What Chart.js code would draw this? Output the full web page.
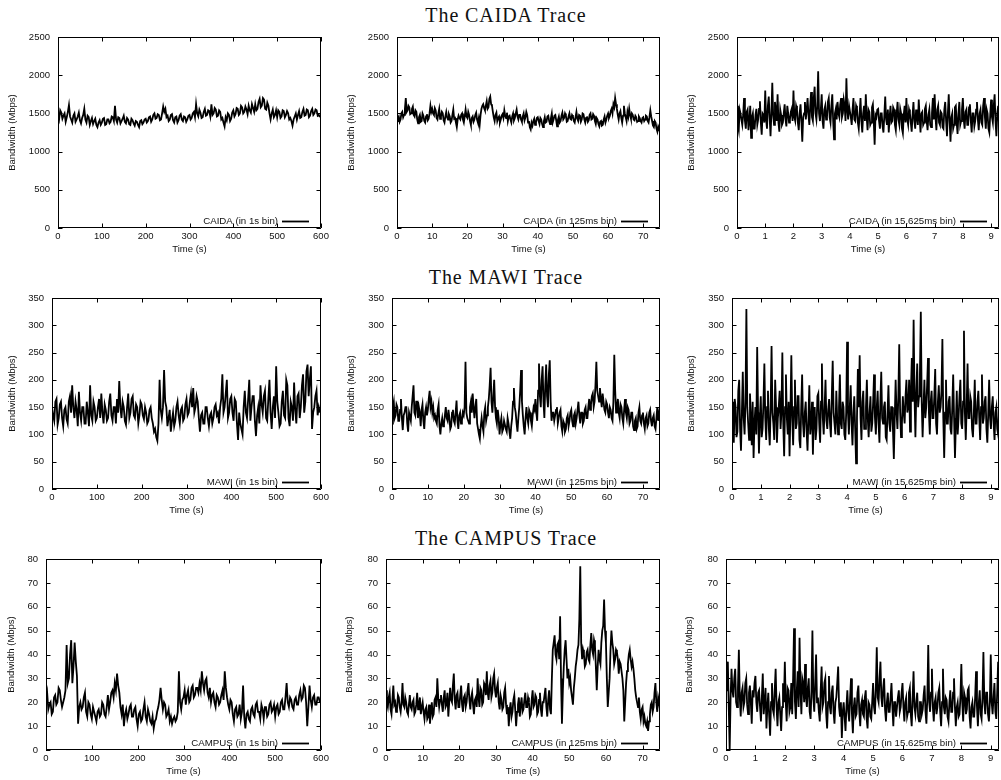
<!DOCTYPE html>
<html>
<head>
<meta charset="utf-8">
<script src="https://cdn.jsdelivr.net/npm/chart.js@4.4.1/dist/chart.umd.min.js"></script>
<style>
html,body{margin:0;padding:0;background:#fff;width:1001px;height:780px;overflow:hidden;}
#wrap{position:relative;width:1001px;height:780px;background:#fff;}
#wrap canvas{position:absolute;}
.title{position:absolute;font-family:"Liberation Serif","Times New Roman",serif;font-size:20px;line-height:20px;letter-spacing:0.9px;color:#111;white-space:nowrap;transform:translateX(-50%);}
</style>
</head>
<body>
<div id="wrap">
  <div class="title" style="left:506px;top:5px">The CAIDA Trace</div>
  <div class="title" style="left:506px;top:267px">The MAWI Trace</div>
  <div class="title" style="left:506px;top:528px">The CAMPUS Trace</div>
</div>
<script>
// ---------- data (Mbps) ----------
const traceNames = ['CAIDA', 'MAWI', 'CAMPUS'];
const binLabels = ['1s', '125ms', '15.625ms'];
const sampleStep = [2.5, 0.25, 0.03125];   // seconds between plotted samples per column
const xMaxByCol = [600, 74.75, 9.28];
const xStepByCol = [100, 10, 1];
const yMaxByRow = [2500, 350, 80];
const yStepByRow = [500, 50, 10];

const caida1s = [
 1480,1420,1540,1510,1430,1470,1500,1390,1450,1520,1610,1460,1420,1380,1470,1500,1390,1420,1460,1510,
 1410,1370,1440,1480,1560,1420,1380,1470,1450,1350,1400,1440,1360,1400,1430,1350,1320,1380,1410,1350,
 1380,1430,1440,1350,1360,1420,1420,1370,1390,1460,1450,1400,1600,1420,1380,1450,1440,1370,1400,1430,
 1470,1390,1370,1440,1420,1360,1350,1430,1410,1370,1340,1400,1390,1350,1320,1400,1410,1360,1380,1420,
 1430,1380,1400,1450,1460,1390,1420,1480,1500,1430,1440,1490,1480,1410,1420,1500,1590,1520,1560,1450,
 1470,1400,1420,1480,1490,1410,1380,1450,1460,1380,1410,1470,1490,1420,1400,1460,1450,1390,1420,1470,
 1480,1420,1440,1500,1520,1450,1620,1500,1460,1550,1510,1440,1450,1520,1560,1470,1480,1540,1530,1460,
 1620,1480,1500,1570,1550,1460,1470,1540,1520,1420,1440,1380,1330,1450,1410,1500,1480,1400,1430,1510,
 1540,1460,1490,1570,1560,1480,1500,1600,1580,1500,1520,1590,1550,1490,1600,1540,1510,1620,1570,1520,
 1620,1540,1560,1650,1690,1580,1600,1700,1680,1560,1550,1640,1600,1500,1420,1500,1550,1450,1480,1540,
 1450,1540,1520,1440,1460,1540,1530,1450,1480,1530,1500,1420,1440,1400,1340,1420,1460,1500,1420,1480,
 1530,1440,1450,1520,1560,1470,1480,1550,1540,1450,1470,1530,1560,1480,1500,1550,1540,1470,1480,1450];

const caida125ms = [
 1400,1440,1460,1390,1420,1500,1520,1450,1480,1560,1700,1520,1540,1600,1580,1490,1500,1560,1590,1480,
 1460,1540,1520,1420,1370,1450,1480,1390,1400,1500,1470,1400,1380,1460,1490,1410,1430,1500,1600,1520,
 1560,1500,1480,1570,1540,1440,1420,1500,1560,1430,1460,1520,1500,1410,1380,1460,1520,1450,1420,1490,
 1460,1380,1400,1480,1550,1430,1440,1380,1320,1420,1470,1440,1420,1480,1500,1420,1380,1460,1550,1460,
 1440,1520,1480,1400,1350,1440,1460,1390,1420,1480,1510,1420,1380,1440,1350,1480,1560,1600,1620,1570,
 1540,1600,1660,1560,1580,1690,1720,1620,1600,1520,1450,1400,1480,1510,1400,1440,1460,1380,1420,1470,
 1490,1440,1540,1470,1440,1510,1400,1460,1470,1420,1380,1460,1500,1410,1440,1500,1550,1460,1420,1480,
 1480,1420,1390,1460,1500,1410,1450,1520,1480,1380,1400,1320,1290,1380,1340,1400,1430,1350,1380,1440,
 1450,1400,1360,1440,1420,1360,1320,1400,1450,1380,1390,1460,1470,1400,1360,1440,1500,1380,1420,1470,
 1480,1410,1330,1420,1460,1380,1400,1470,1510,1420,1440,1500,1470,1390,1400,1460,1500,1430,1420,1480,
 1460,1400,1380,1450,1520,1430,1400,1480,1470,1390,1420,1500,1490,1420,1380,1440,1460,1390,1410,1480,
 1500,1420,1430,1490,1470,1400,1360,1440,1420,1360,1330,1390,1400,1340,1350,1420,1460,1380,1420,1470,
 1500,1440,1470,1530,1560,1500,1620,1580,1700,1620,1560,1480,1420,1500,1530,1440,1380,1470,1600,1500,
 1450,1400,1520,1460,1560,1480,1430,1500,1480,1420,1410,1470,1450,1390,1400,1460,1440,1400,1380,1440,
 1450,1400,1420,1470,1460,1400,1380,1450,1540,1460,1400,1340,1320,1400,1380,1300,1260,1330,1300,1250];

const caida15ms = [
 1600,1350,1280,1550,1500,1420,1350,1480,1700,1400,1300,1520,1550,1280,1400,1600,1180,1450,1500,1300,1300,1480,1560,1350,1420,1560,1660,1380,1220,1500,1480,1380,
 1800,1420,1300,1600,1720,1450,1200,1500,1900,1480,1350,1650,1550,1400,1750,1380,1260,1550,1480,1350,1380,1500,1620,1420,1330,1600,1500,1380,1420,1520,1560,1400,
 1800,1450,1400,1600,1550,1380,1280,1500,1620,1400,1130,1450,1500,1650,1420,1550,1700,1480,1350,1600,1780,1450,1400,1700,1850,1500,1420,1600,2050,1500,1400,1550,
 1750,1400,1300,1550,1600,1420,1450,1650,1700,1450,1380,1600,1750,1400,1160,1500,1560,1420,1650,1500,1450,1620,1700,1450,1500,1680,1600,1400,1960,1550,1420,1600,
 1600,1450,1350,1550,1700,1420,1400,1600,1560,1380,1300,1500,1700,1400,1250,1500,1600,1400,1750,1450,1280,1550,1520,1350,1380,1580,1620,1400,1090,1480,1450,1550,
 1560,1400,1300,1500,1500,1330,1250,1480,1720,1420,1350,1550,1250,1450,1600,1380,1400,1580,1550,1350,1280,1500,1650,1420,1350,1560,1500,1300,1240,1480,1600,1380,
 1700,1420,1350,1550,1500,1380,1260,1480,1650,1400,1300,1550,1450,1350,1680,1450,1250,1500,1520,1350,1380,1560,1600,1400,1280,1480,1550,1350,1320,1500,1700,1420,
 1750,1450,1280,1550,1600,1380,1350,1520,1500,1320,1300,1550,1650,1400,1200,1500,1750,1400,1130,1450,1500,1300,1350,1580,1600,1380,1230,1500,1650,1350,1400,1550,
 1700,1420,1300,1520,1550,1350,1350,1580,1620,1400,1250,1500,1500,1330,1400,1550,1650,1420,1280,1500,1550,1380,1350,1600,1700,1450,1300,1550,1500,1300,1250,1480,
 1680,1450,1380,1600,1750,1400,1200,1500,1600,1350];

const mawi1s = [
 150,135,125,160,165,118,130,155,160,130,115,145,150,128,120,160,170,140,190,150,
 130,160,145,115,178,140,125,150,150,120,120,160,140,115,190,135,125,160,150,125,
 130,150,165,130,175,140,120,155,145,125,130,160,175,135,125,150,150,120,165,140,
 198,150,130,160,150,125,118,150,175,130,140,165,170,135,130,155,150,120,135,160,
 155,135,128,150,140,120,125,145,150,130,120,105,110,95,88,120,200,145,130,150,
 218,160,150,115,130,145,105,125,140,115,125,150,160,135,120,145,150,125,130,155,
 165,135,140,160,175,150,185,140,150,170,160,130,105,135,140,120,120,150,150,130,
 115,135,140,120,130,150,155,135,140,120,150,165,210,140,150,175,200,130,140,165,
 170,140,125,165,160,120,90,140,120,110,100,150,180,140,130,165,200,125,150,170,
 170,125,97,135,150,120,190,155,140,170,180,130,125,165,200,140,110,150,170,130,
 225,160,140,115,120,160,180,135,130,200,190,130,115,160,150,125,195,145,120,170,
 175,130,150,190,210,140,160,215,228,170,200,225,110,140,150,170,180,135,150,140];

const mawi125ms = [
 120,150,160,130,135,155,150,125,125,145,165,130,108,135,140,150,150,120,105,140,
 140,125,150,170,190,140,135,160,160,130,150,140,115,145,155,125,110,140,150,135,
 145,165,180,150,160,140,150,130,135,125,120,145,155,115,100,120,130,115,120,135,
 150,130,125,145,130,110,115,140,145,125,120,140,162,125,110,135,140,120,125,140,
 135,150,233,140,130,125,120,150,160,140,175,150,130,150,165,120,110,100,92,115,
 130,115,105,140,150,125,135,150,165,190,222,160,140,170,200,150,130,120,145,130,
 100,120,130,105,110,125,125,110,105,130,120,105,92,115,130,160,185,150,140,120,
 105,130,150,180,218,160,135,115,100,130,150,130,120,145,140,125,115,135,150,145,
 165,140,125,180,230,170,150,200,225,160,130,190,228,170,150,210,236,160,125,140,
 140,125,135,145,150,120,130,140,145,115,105,125,120,105,110,130,135,115,125,140,
 145,125,115,135,140,120,130,145,160,135,120,140,140,120,125,145,150,130,130,150,
 165,145,155,170,175,150,160,190,233,180,170,160,185,165,150,175,160,145,140,160,
 155,140,130,150,145,130,125,160,246,180,140,150,165,140,130,155,150,130,120,145,
 165,140,130,150,145,120,125,140,140,115,108,125,130,110,115,140,150,125,120,135,
 140,120,110,130,135,115,120,140,145,125,115,130,135,115,110,130,150,125,140,150];

const mawi15ms = [
 160,120,85,165,150,95,105,180,200,110,70,140,215,130,100,160,330,150,120,90,175,130,80,160,57,120,150,100,260,140,65,130,
 170,95,110,160,230,130,90,150,180,110,80,150,262,140,120,90,200,150,85,130,150,180,110,140,250,120,60,150,210,130,100,160,
 60,140,245,130,80,150,200,110,120,170,170,90,75,150,210,120,95,140,160,105,70,130,190,100,120,160,63,140,150,90,110,170,
 175,120,85,160,230,130,100,150,200,125,110,145,165,120,95,170,235,140,120,100,180,130,100,150,210,120,110,160,150,100,90,140,
 270,140,100,150,190,120,80,140,170,110,47,130,220,150,245,130,90,160,180,110,110,150,200,130,95,140,170,105,120,160,210,130,
 100,150,180,120,85,160,215,130,120,150,160,95,90,140,190,120,105,150,150,110,55,130,200,140,110,170,265,140,95,120,170,140,
 120,170,200,140,150,200,105,180,240,160,310,170,95,180,230,150,170,210,325,160,95,150,200,130,150,190,240,140,100,160,180,130,
 130,170,220,120,100,160,190,140,150,180,275,130,57,140,200,120,120,160,170,110,100,150,210,130,57,120,180,100,130,170,200,120,
 110,160,290,140,90,150,230,130,130,170,160,110,95,140,200,120,120,160,180,130,90,150,210,120,130,160,170,110,85,140,200,130,
 110,150,170,120,90,140,150,110,100,140];

const campus1s = [
 21,24,17,19,20,15,16,22,23,19,20,26,25,21,18,20,22,25,44,28,
 30,40,46,28,35,45,37,31,11,18,20,17,18,22,24,16,14,20,19,15,
 13,18,16,14,12,16,17,14,15,20,19,15,14,18,23,17,20,24,25,22,
 28,25,32,27,24,18,15,19,10,15,17,13,15,18,19,14,14,17,18,13,
 10,15,16,12,13,17,20,14,12,17,15,12,11,14,9,12,13,16,18,21,
 26,21,17,20,19,14,15,17,12,14,11,13,14,12,13,16,33,20,17,21,
 22,25,19,23,25,20,21,26,27,22,23,26,26,24,28,25,33,28,25,29,
 30,24,22,26,20,23,24,20,18,23,22,19,20,23,25,21,33,26,22,19,
 17,21,20,15,12,17,18,14,15,19,13,16,27,14,9,15,16,13,12,17,
 18,15,14,19,20,16,16,13,19,17,13,18,18,14,15,19,20,16,17,19,
 14,18,19,15,16,20,21,17,17,22,28,20,18,22,21,18,17,21,22,19,
 19,23,25,21,22,27,26,20,10,18,27,21,18,22,23,19,19,22,22,20];

const campus125ms = [
 25,20,18,22,24,17,15,21,27,19,20,16,17,23,22,18,16,20,28,19,
 18,22,20,16,15,19,23,18,17,20,21,15,16,19,24,17,19,22,15,18,
 20,16,13,17,18,13,14,19,11,16,20,14,15,21,22,18,30,22,18,21,
 23,19,16,22,25,18,19,24,14,20,26,21,20,27,32,21,17,23,24,18,
 18,23,27,19,16,22,23,18,20,25,28,21,17,22,24,19,15,21,22,18,
 30,22,18,26,25,19,20,28,27,23,33,24,21,27,29,22,24,30,32,25,
 22,26,28,20,17,23,21,17,18,24,26,19,15,18,10,17,20,14,16,21,
 23,17,10,16,19,22,14,19,22,16,17,21,24,18,18,22,20,14,15,21,
 25,18,19,23,22,15,16,21,24,17,14,20,20,23,26,18,14,21,25,17,
 15,30,42,45,48,40,38,44,45,38,56,30,11,25,35,42,46,38,30,34,
 28,30,25,22,19,26,30,35,38,42,44,55,77,45,38,42,40,35,36,41,
 42,38,37,44,49,42,40,46,44,35,25,35,42,38,36,45,50,52,63,50,
 45,30,18,24,30,42,50,45,42,36,38,42,41,38,32,37,36,33,30,25,
 12,20,28,33,36,40,42,38,35,37,34,30,25,22,20,18,22,16,13,17,
 18,12,14,11,10,12,8,12,15,19,20,16,18,24,28,20,16,22,20,17];

const campus15ms = [
 25,30,37,18,0,22,34,25,22,30,34,20,18,26,42,22,14,24,26,18,20,28,30,19,15,24,27,20,11,25,22,28,
 31,20,16,24,25,18,12,22,32,15,20,26,9,18,24,14,6,20,28,17,15,25,34,18,10,20,22,15,8,18,28,20,
 37,20,12,26,25,16,18,28,15,30,51,20,13,25,33,18,47,25,15,30,28,20,36,22,18,26,30,16,13,25,50,22,
 16,28,40,20,22,16,12,25,35,18,20,28,30,15,9,20,31,18,15,24,27,16,11,20,22,28,35,18,14,20,5,16,
 20,14,8,18,25,16,12,22,30,15,7,18,22,14,15,24,27,16,10,19,21,15,14,22,25,13,9,20,19,14,13,20,
 28,18,15,26,43,22,20,30,37,22,18,26,30,17,12,20,24,16,16,22,28,18,10,20,20,14,14,22,25,16,18,24,
 28,18,12,20,22,14,16,24,26,15,10,22,33,18,15,20,24,14,12,20,20,15,17,23,27,16,11,22,44,20,16,24,
 34,18,12,20,22,15,18,24,26,16,10,20,34,18,15,22,21,14,12,20,25,16,16,24,30,18,10,18,20,14,15,22,
 36,20,12,24,22,15,17,25,26,14,9,18,20,14,14,22,33,18,10,20,25,15,13,22,41,20,15,24,24,15,12,20,
 40,20,15,22,28,16,13,24,37,20];

const seriesGrid = [
  [caida1s, caida125ms, caida15ms],
  [mawi1s, mawi125ms, mawi15ms],
  [campus1s, campus125ms, campus15ms]
];

// ---------- layout (pixels) ----------
const plotTop = [37, 298, 559];
const plotBottom = [228, 489, 750];
const plotRight = [321, 660, 999];
const plotLeft = [[58, 397, 737], [52, 392, 732], [46, 386, 726]];
const yTitleX = [[13, 352, 692], [13, 352, 692], [12, 350, 690]];

const FONT_FAMILY = '"Liberation Sans", Arial, Helvetica, sans-serif';
const TXT = '#111';
const tickFont = {family: FONT_FAMILY, size: 9.5, lineHeight: 1.2};

const framePlugin = {
  id: 'gnuFrame',
  afterDatasetsDraw(chart) {
    const {ctx, chartArea: a, scales: {x, y}} = chart;
    const L = 4.5;
    ctx.save();
    ctx.strokeStyle = '#000';
    ctx.lineWidth = 1;
    ctx.beginPath();
    x.ticks.forEach(t => {
      const px = Math.round(x.getPixelForValue(t.value)) + 0.5;
      ctx.moveTo(px, a.bottom); ctx.lineTo(px, a.bottom - L);
      ctx.moveTo(px, a.top); ctx.lineTo(px, a.top + L);
    });
    y.ticks.forEach(t => {
      const py = Math.round(y.getPixelForValue(t.value)) + 0.5;
      ctx.moveTo(a.left, py); ctx.lineTo(a.left + L, py);
      ctx.moveTo(a.right, py); ctx.lineTo(a.right - L, py);
    });
    ctx.stroke();
    ctx.beginPath();
    ctx.rect(Math.round(a.left) + 0.5, Math.round(a.top) + 0.5,
             Math.round(a.right - a.left) - 1, Math.round(a.bottom - a.top) - 1);
    ctx.stroke();
    ctx.restore();
  }
};

const keyPlugin = {
  id: 'gnuKey',
  afterDatasetsDraw(chart) {
    const {ctx, chartArea: a} = chart;
    const ds = chart.data.datasets[0];
    const yy = Math.round(a.bottom - 7) + 0.5;
    const x2 = a.right - 12, x1 = x2 - 27;
    ctx.save();
    ctx.font = '9.7px ' + FONT_FAMILY;
    ctx.fillStyle = TXT;
    ctx.textAlign = 'right';
    ctx.textBaseline = 'middle';
    ctx.fillText(ds.label, x1 - 4, yy);
    ctx.strokeStyle = ds.borderColor;
    ctx.lineWidth = ds.borderWidth;
    ctx.beginPath();
    ctx.moveTo(x1, yy); ctx.lineTo(x2, yy);
    ctx.stroke();
    ctx.restore();
  }
};

const wrap = document.getElementById('wrap');

function makePanel(row, col) {
  const values = seriesGrid[row][col];
  const step = sampleStep[col];
  const top = plotTop[row], bottom = plotBottom[row];
  const left = plotLeft[row][col], right = plotRight[col];
  const lh = tickFont.size * 1.2;
  const cLeft = Math.round(yTitleX[row][col] - lh / 2);
  const padTop = 10, xH = 27;
  const padRight = Math.min(12, 1001 - right);
  const cTop = top - padTop;
  const cw = right + padRight - cLeft;
  const ch = bottom + xH - cTop;
  const yW = left - cLeft;

  const canvas = document.createElement('canvas');
  canvas.width = cw; canvas.height = ch;
  canvas.style.left = cLeft + 'px'; canvas.style.top = cTop + 'px';
  canvas.style.width = cw + 'px'; canvas.style.height = ch + 'px';
  wrap.appendChild(canvas);

  new Chart(canvas, {
    type: 'line',
    data: {
      datasets: [{
        label: traceNames[row] + ' (in ' + binLabels[col] + ' bin)',
        data: values.map((v, i) => ({x: i * step, y: v})),
        borderColor: '#000',
        borderWidth: 1.8,
        pointRadius: 0,
        fill: false,
        tension: 0,
        borderJoinStyle: 'miter'
      }]
    },
    options: {
      responsive: false,
      maintainAspectRatio: false,
      animation: false,
      devicePixelRatio: 1,
      events: [],
      layout: {padding: {left: 0, top: padTop, right: padRight, bottom: 0}},
      plugins: {legend: {display: false}, tooltip: {enabled: false}},
      scales: {
        x: {
          type: 'linear', min: 0, max: xMaxByCol[col],
          grid: {display: false, drawTicks: false},
          border: {display: false},
          ticks: {stepSize: xStepByCol[col], includeBounds: false, autoSkip: false,
                  maxRotation: 0, padding: 3, color: TXT, font: tickFont,
                  callback: v => String(v)},
          title: {display: true, text: 'Time (s)', color: TXT, font: tickFont, padding: 0},
          afterFit(s) { s.height = xH; s.paddingLeft = 0; s.paddingRight = 0; }
        },
        y: {
          type: 'linear', min: 0, max: yMaxByRow[row],
          grid: {display: false, drawTicks: false},
          border: {display: false},
          ticks: {stepSize: yStepByRow[row], padding: 8, color: TXT, font: tickFont,
                  callback: v => String(v)},
          title: {display: true, text: 'Bandwidth (Mbps)', color: TXT, font: tickFont, padding: 0},
          afterFit(s) { s.width = yW; s.paddingTop = 0; s.paddingBottom = 0; }
        }
      }
    },
    plugins: [framePlugin, keyPlugin]
  });
}

for (let r = 0; r < 3; r++) for (let c = 0; c < 3; c++) makePanel(r, c);
</script>
</body>
</html>
